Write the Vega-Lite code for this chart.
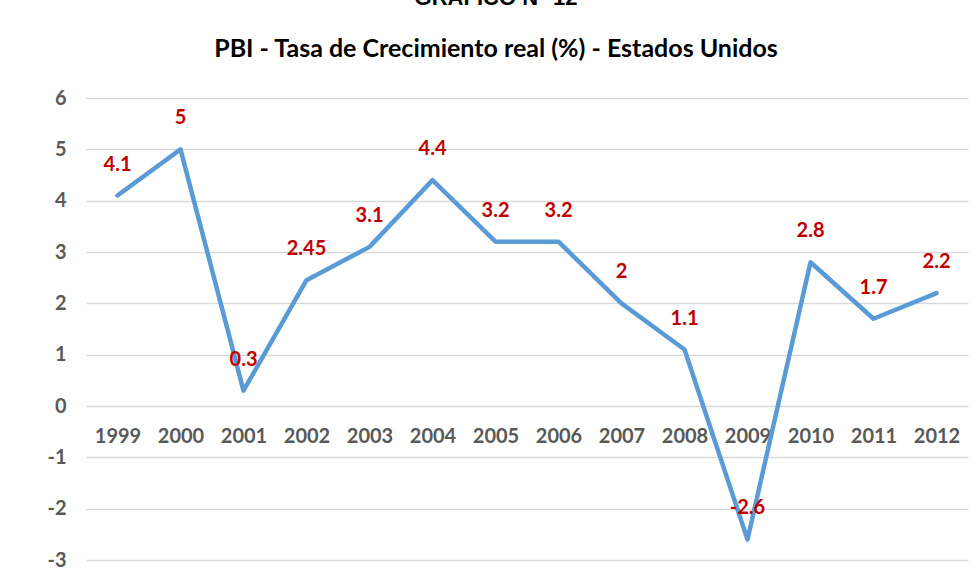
{
  "$schema": "https://vega.github.io/schema/vega-lite/v6.json",
  "autosize": {"type": "none"},
  "width": 882,
  "height": 462,
  "padding": {"left": 86, "top": 98, "right": 5, "bottom": 22},
  "background": "white",
  "title": {
    "text": "GRÁFICO N° 12",
    "subtitle": "PBI - Tasa de Crecimiento real (%) - Estados Unidos",
    "anchor": "middle",
    "dx": -31,
    "font": "Liberation Sans",
    "fontSize": 22,
    "fontWeight": "bold",
    "color": "#000000",
    "subtitleFont": "Lato",
    "subtitleFontSize": 25,
    "subtitleFontWeight": "bold",
    "subtitleColor": "#000000",
    "subtitlePadding": 27,
    "offset": 25
  },
  "config": {
    "view": {"stroke": null},
    "font": "Lato"
  },
  "data": {
    "values": [
      {"year": "1999", "v": 4.1, "lbl": "4.1"},
      {"year": "2000", "v": 5, "lbl": "5"},
      {"year": "2001", "v": 0.3, "lbl": "0.3"},
      {"year": "2002", "v": 2.45, "lbl": "2.45"},
      {"year": "2003", "v": 3.1, "lbl": "3.1"},
      {"year": "2004", "v": 4.4, "lbl": "4.4"},
      {"year": "2005", "v": 3.2, "lbl": "3.2"},
      {"year": "2006", "v": 3.2, "lbl": "3.2"},
      {"year": "2007", "v": 2, "lbl": "2"},
      {"year": "2008", "v": 1.1, "lbl": "1.1"},
      {"year": "2009", "v": -2.6, "lbl": "-2.6"},
      {"year": "2010", "v": 2.8, "lbl": "2.8"},
      {"year": "2011", "v": 1.7, "lbl": "1.7"},
      {"year": "2012", "v": 2.2, "lbl": "2.2"}
    ]
  },
  "encoding": {
    "x": {
      "field": "year",
      "type": "ordinal",
      "scale": {"type": "point", "padding": 0.5},
      "axis": {
        "title": null,
        "labelAngle": 0,
        "domain": false,
        "ticks": false,
        "offset": -154,
        "labelPadding": 20,
        "labelFont": "Lato",
        "labelFontSize": 20,
        "labelFontWeight": "bold",
        "labelColor": "#595959",
        "grid": false
      }
    },
    "y": {
      "field": "v",
      "type": "quantitative",
      "scale": {"domain": [-3, 6], "nice": false, "zero": false},
      "axis": {
        "title": null,
        "values": [-3, -2, -1, 0, 1, 2, 3, 4, 5, 6],
        "labelExpr": "'' + datum.value",
        "domain": false,
        "ticks": false,
        "labelPadding": 20,
        "labelFont": "Lato",
        "labelFontSize": 20,
        "labelFontWeight": "bold",
        "labelColor": "#595959",
        "gridColor": "#d9d9d9",
        "gridWidth": 1.3
      }
    }
  },
  "layer": [
    {
      "mark": {"type": "line", "color": "#5B9BD5", "strokeWidth": 4.5, "strokeJoin": "round", "strokeCap": "round"}
    },
    {
      "mark": {"type": "text", "dy": -31, "font": "Lato", "fontSize": 20, "fontWeight": "bold", "color": "#C00000"},
      "encoding": {"text": {"field": "lbl", "type": "nominal"}}
    }
  ]
}
